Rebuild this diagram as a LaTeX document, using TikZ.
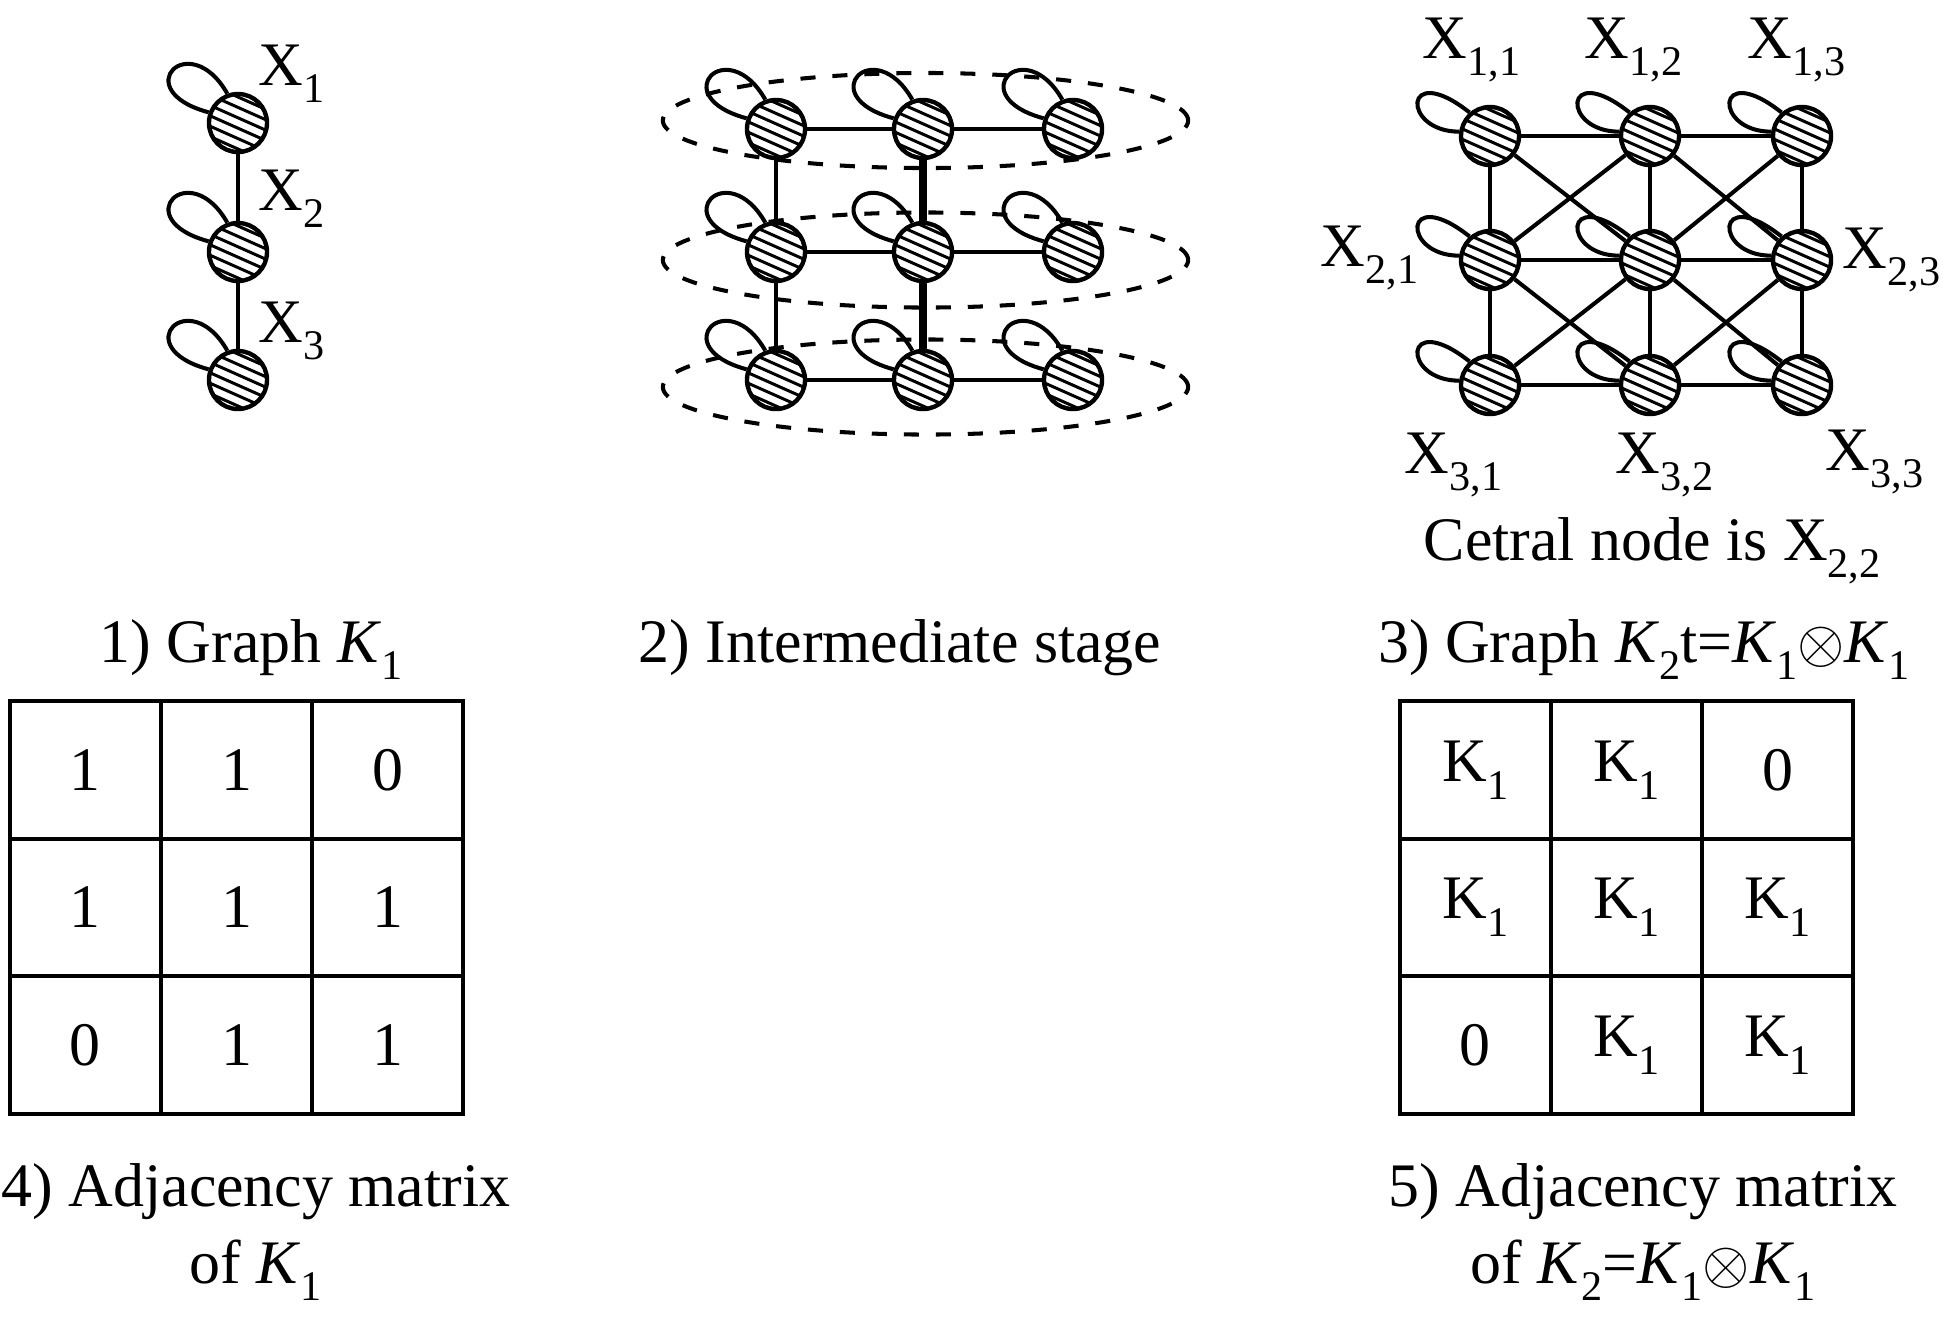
\documentclass[tikz,border=0pt]{standalone}
\usepackage{fontspec}
\setmainfont{Liberation Serif}
\usetikzlibrary{calc, matrix}
\newcommand{\lsub}[1]{\raisebox{-0.29em}{\fontsize{12}{13}\selectfont #1}}
\tikzset{every node/.append style={inner sep=0pt, font=\fontsize{17.6}{21.8}\selectfont}}

\begin{document}
\begin{tikzpicture}[x=0.01cm, y=-0.01cm,
    hnode/.style={circle, draw, fill=white, line width=1.25pt, minimum size=0.58cm,
        path picture={\foreach \k in {-2.5,-1.5,...,2.5}
            \draw[line width=0.85pt] ($(path picture bounding box.center)+(-45,\k*10.4-20)$) -- ++(90,40);}},
    link/.style={line width=1.15pt},
    thicklink/.style={line width=2pt},
    dashring/.style={line width=1.15pt, dash pattern=on 4.3pt off 4.8pt},
    cell/.style={draw, line width=1.2pt, minimum width=1.51cm, minimum height=1.375cm, anchor=center},
    lbl/.style={anchor=base west}
]
\useasboundingbox (0,0) rectangle (1943,1317);

% 1) graph K1
\node[hnode] (k1) at (238,123) {};
\node[hnode] (k2) at (238,252) {};
\node[hnode] (k3) at (238,380) {};
\draw[link] (k1) -- (k2);
\draw[link] (k2) -- (k3);
\node[lbl] (xk1) at (258,85) {X\lsub{1}};
\node[lbl] (xk2) at (258,210) {X\lsub{2}};
\node[lbl] (xk3) at (258,342) {X\lsub{3}};

% 2) intermediate stage
\draw[dashring] (925.5,120.5) ellipse [x radius=2.625cm, y radius=0.475cm];
\draw[dashring] (925.5,260) ellipse [x radius=2.625cm, y radius=0.475cm];
\draw[dashring] (925.5,387) ellipse [x radius=2.625cm, y radius=0.475cm];
\foreach \r/\y in {1/129,2/252,3/380}
  \foreach \c/\x in {1/776,2/923,3/1073}
    \node[hnode] (m\r\c) at (\x,\y) {};
\foreach \r in {1,2,3} {
  \draw[link] (m\r1) -- (m\r2);
  \draw[link] (m\r2) -- (m\r3);
}
\draw[link] (m11) -- (m21);
\draw[link] (m21) -- (m31);
\draw[thicklink] (m12) -- (m22);
\draw[thicklink] (m22) -- (m32);

% 3) graph K2
\foreach \r/\y in {1/136,2/260,3/385}
  \foreach \c/\x in {1/1490,2/1650,3/1802}
    \node[hnode] (g\r\c) at (\x,\y) {};
\foreach \r in {1,2,3} {
  \draw[link] (g\r1) -- (g\r2);
  \draw[link] (g\r2) -- (g\r3);
  \draw[link] (g1\r) -- (g2\r);
  \draw[link] (g2\r) -- (g3\r);
}
\draw[link] (g11) -- (g22);
\draw[link] (g12) -- (g21);
\draw[link] (g12) -- (g23);
\draw[link] (g13) -- (g22);
\draw[link] (g21) -- (g32);
\draw[link] (g22) -- (g31);
\draw[link] (g22) -- (g33);
\draw[link] (g23) -- (g32);
\node[lbl] (x11) at (1422,58) {X\lsub{1,1}};
\node[lbl] (x12) at (1584,58) {X\lsub{1,2}};
\node[lbl] (x13) at (1747,58) {X\lsub{1,3}};
\node[lbl] (x21) at (1320,266) {X\lsub{2,1}};
\node[lbl] (x23) at (1842,268) {X\lsub{2,3}};
\node[lbl] (x31) at (1404,473) {X\lsub{3,1}};
\node[lbl] (x32) at (1615,473) {X\lsub{3,2}};
\node[lbl] (x33) at (1825,470) {X\lsub{3,3}};
\node[lbl] (central) at (1423,560) {Cetral node is X\lsub{2,2}};

% self loops
\foreach \n in {k1,k2,k3,m11,m12,m13,m21,m22,m23,m31,m32,m33}
  \draw[link] (\n.110) .. controls +(-38,-67) and +(-82,-22) .. (\n.160);
\foreach \n in {g11,g12,g13,g21,g22,g23,g31,g32,g33}
  \draw[link] (\n.131) .. controls +(-67,-53) and +(-58,0) .. (\n.172);

% captions
\node[anchor=base] (capA) at (251,662) {1) Graph \textit{K}\lsub{1}};
\node[anchor=base] (capB) at (900,662) {2) Intermediate stage};
\node[anchor=base] (capC) at (1644,662) {3) Graph \textit{K}\lsub{2}t=\textit{K}\lsub{1}$\otimes$\textit{K}\lsub{1}};

% adjacency matrices
\matrix (adjA) [matrix of nodes, inner sep=0pt, column sep=-1.2pt, row sep=-1.2pt,
    nodes={cell}] at (236.5,907.5) {
  1 & 1 & 0 \\
  1 & 1 & 1 \\
  0 & 1 & 1 \\
};
\matrix (adjB) [matrix of nodes, inner sep=0pt, column sep=-1.2pt, row sep=-1.2pt,
    nodes={cell}] at (1626.5,907.5) {
  K\lsub{1} & K\lsub{1} & 0 \\
  K\lsub{1} & K\lsub{1} & K\lsub{1} \\
  0 & K\lsub{1} & K\lsub{1} \\
};
\node[anchor=base, align=center] (capD) at (256,1283) {4) Adjacency matrix\\of \textit{K}\lsub{1}};
\node[anchor=base, align=center] (capE) at (1643,1283) {5) Adjacency matrix\\of \textit{K}\lsub{2}=\textit{K}\lsub{1}$\otimes$\textit{K}\lsub{1}};
\end{tikzpicture}
\end{document}
